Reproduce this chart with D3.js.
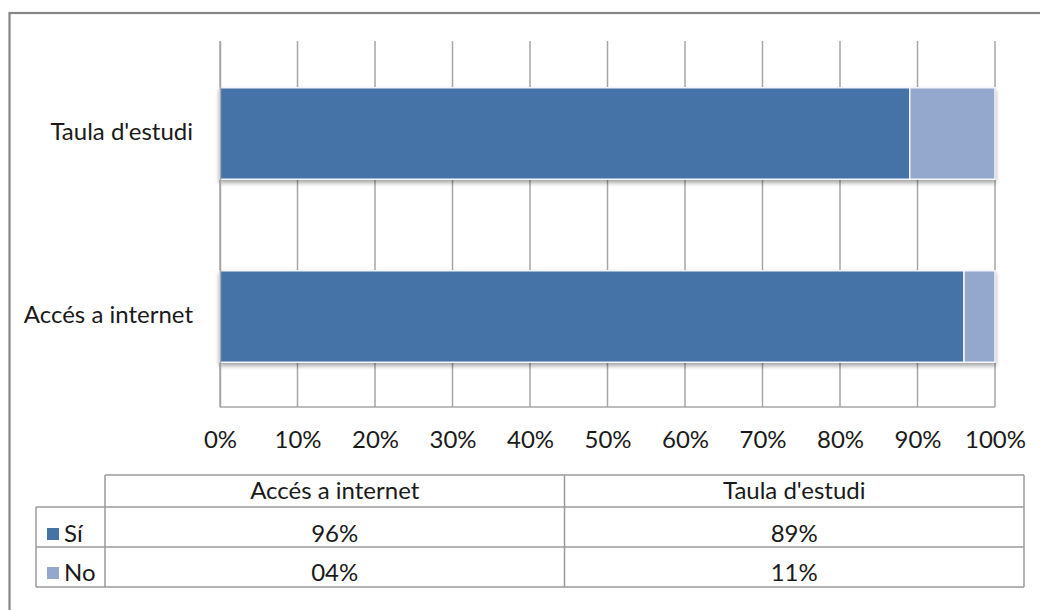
<!DOCTYPE html>
<html><head><meta charset="utf-8">
<script src="https://cdn.jsdelivr.net/npm/d3@7"></script>
<style>body{margin:0;background:#fff}svg{display:block}</style>
</head><body>
<svg id="c" width="1040" height="610"></svg>
<script>
const categories = ["Accés a internet", "Taula d'estudi"];
const seriesNames = ["Sí", "No"];
const siValues = [96, 89];
const noValues = [4, 11];
const tickValues = [0, 10, 20, 30, 40, 50, 60, 70, 80, 90, 100];
const colors = ["#4572A7", "#94A8CE"];

const svg = d3.select("#c");
const FONT = "Lato, 'Open Sans', sans-serif";
const FS = 24;
const textColor = "#1a1a1a";
const gridColor = "#a6a6a6";

// outer chart border
svg.append("rect").attr("x", 9.5).attr("y", 13).attr("width", 1060).attr("height", 640)
  .attr("fill", "none").attr("stroke", "#868686").attr("stroke-width", 2.2);

const plot = {left: 220, right: 995, top: 41, bottom: 407};
const x = d3.scaleLinear().domain([0, 100]).range([plot.left, plot.right]);
const y = d3.scaleBand().domain(categories.slice().reverse()).range([plot.top, plot.bottom])
  .paddingInner(0.5).paddingOuter(0.25);

const defs = svg.append("defs");
const f = defs.append("filter").attr("id", "sh").attr("x", "-5%").attr("y", "-20%").attr("width", "110%").attr("height", "150%");
f.append("feDropShadow").attr("dx", 0).attr("dy", 3).attr("stdDeviation", 2)
  .attr("flood-color", "#000").attr("flood-opacity", 0.35);

// gridlines
svg.append("g").selectAll("line").data(tickValues).join("line")
  .attr("x1", d => x(d)).attr("x2", d => x(d))
  .attr("y1", plot.top).attr("y2", plot.bottom)
  .attr("stroke", gridColor).attr("stroke-width", 1.5);
// baseline
svg.append("line").attr("x1", plot.left).attr("x2", plot.right)
  .attr("y1", plot.bottom).attr("y2", plot.bottom)
  .attr("stroke", gridColor).attr("stroke-width", 1.5);

// stacked data
const rows = categories.map((c, i) => ({cat: c, "Sí": siValues[i], "No": noValues[i]}));
const stacked = d3.stack().keys(seriesNames)(rows);

const bars = svg.append("g").attr("filter", "url(#sh)");
stacked.forEach((s, si) => {
  bars.append("g").selectAll("rect").data(s).join("rect")
    .attr("x", d => x(d[0]))
    .attr("width", d => x(d[1]) - x(d[0]))
    .attr("y", d => y(d.data.cat) + 1)
    .attr("height", y.bandwidth())
    .attr("fill", colors[si])
    .attr("stroke", "#f4f6fb").attr("stroke-width", 1.5);
});

// x tick labels
const xAxis = d3.axisBottom(x).tickValues(tickValues).tickFormat(d => d + "%").tickSize(0).tickPadding(0);
const gx = svg.append("g").attr("transform", `translate(0,${plot.bottom})`).call(xAxis);
gx.select(".domain").remove();
gx.selectAll("text").attr("font-family", FONT).attr("font-size", FS).attr("fill", textColor)
  .attr("dy", null).attr("y", 41);

// category labels
const yAxis = d3.axisLeft(y).tickSize(0).tickPadding(27);
const gy = svg.append("g").attr("transform", `translate(${plot.left},0)`).call(yAxis);
gy.select(".domain").attr("stroke", gridColor).attr("stroke-width", 1.5);
gy.selectAll("text").attr("font-family", FONT).attr("font-size", FS).attr("fill", textColor)
  .attr("dy", "0.32em");

// data table
const tbl = {legLeft: 36, left: 105, right: 1024, rowsY: [475, 507, 547, 587]};
const colX = d3.scaleBand().domain(categories).range([tbl.left, tbl.right]);
const lineColor = "#9a9a9a";
const tg = svg.append("g");
const hl = (x1, x2, yy) => tg.append("line").attr("x1", x1).attr("x2", x2).attr("y1", yy).attr("y2", yy)
  .attr("stroke", lineColor).attr("stroke-width", 1.5);
const vl = (xx, y1, y2) => tg.append("line").attr("x1", xx).attr("x2", xx).attr("y1", y1).attr("y2", y2)
  .attr("stroke", lineColor).attr("stroke-width", 1.5);
hl(tbl.left, tbl.right, tbl.rowsY[0]);
hl(tbl.legLeft, tbl.right, tbl.rowsY[1]);
hl(tbl.legLeft, tbl.right, tbl.rowsY[2]);
hl(tbl.legLeft, tbl.right, tbl.rowsY[3]);
vl(tbl.legLeft, tbl.rowsY[1], tbl.rowsY[3]);
vl(tbl.left, tbl.rowsY[0], tbl.rowsY[3]);
categories.forEach(c => vl(colX(c) + colX.bandwidth(), tbl.rowsY[0], tbl.rowsY[3]));

const txt = (xx, yy, s, anchor) => tg.append("text").attr("x", xx).attr("y", yy).text(s)
  .attr("font-family", FONT).attr("font-size", FS).attr("fill", textColor).attr("text-anchor", anchor);

// header
categories.forEach(c => txt(colX(c) + colX.bandwidth() / 2, 499, c, "middle"));
const fmt = v => d3.format("02d")(v) + "%";
const seriesVals = [siValues, noValues];
const baseY = [542, 581];
seriesNames.forEach((s, si) => {
  tg.append("rect").attr("x", 47).attr("y", baseY[si] - 14).attr("width", 12).attr("height", 12)
    .attr("fill", colors[si]);
  txt(64, baseY[si], s, "start");
  categories.forEach((c, ci) => txt(colX(c) + colX.bandwidth() / 2, baseY[si], fmt(seriesVals[si][ci]), "middle"));
});
</script>
</body></html>
